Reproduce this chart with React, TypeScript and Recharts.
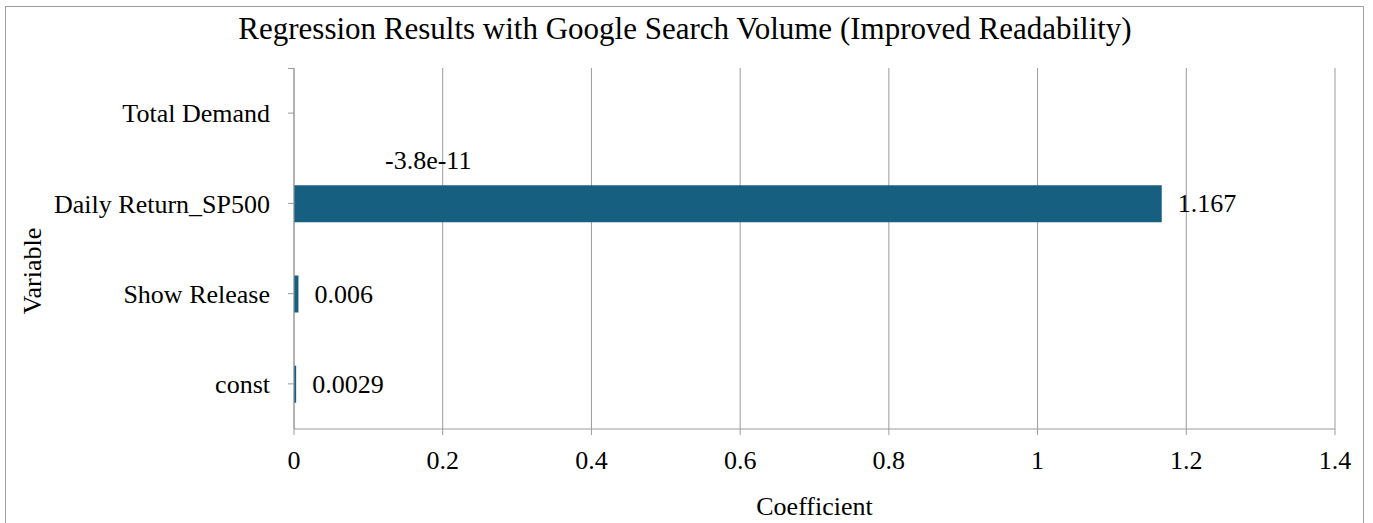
import React from 'react';
import { BarChart, Bar, XAxis, YAxis, CartesianGrid, LabelList, Label } from 'recharts';

const categories = ['Total Demand', 'Daily Return_SP500', 'Show Release', 'const'];
const coefficients = [-3.8e-11, 1.167, 0.006, 0.0029];
const valueLabels = ['-3.8e-11', '1.167', '0.006', '0.0029'];
const xTicks = [0, 0.2, 0.4, 0.6, 0.8, 1, 1.2, 1.4];

const data = categories.map((c, i) => ({ name: c, value: coefficients[i], label: valueLabels[i] }));

const FONT = '"Liberation Serif", "Times New Roman", Times, serif';
const BAR = '#175f80';
const GRID = '#9a9a9a';

const ValueLabel = (props: any) => {
  const { x, y, width, height, index } = props;
  const d = data[index];
  const cy = y + height / 2;
  if (d.value < 0) {
    return (
      <text x={x + 91} y={cy + 47} fontSize={26} fontFamily={FONT} fill="#000" dominantBaseline="central">
        {d.label}
      </text>
    );
  }
  return (
    <text x={x + width + 16} y={cy} fontSize={26} fontFamily={FONT} fill="#000" dominantBaseline="central">
      {d.label}
    </text>
  );
};

export default function App() {
  return (
    <div style={{ position: 'absolute', left: 0, top: 0, width: 1373, height: 523, background: '#fff', overflow: 'hidden', fontFamily: FONT }}>
      <div style={{ position: 'absolute', left: 5, top: 6, width: 1359, height: 540, border: '1px solid #a0a0a0', borderBottom: 'none', boxSizing: 'border-box' }} />
      <svg style={{ position: 'absolute', left: 0, top: 0 }} width={1373} height={80}>
        <text x={685} y={39} textAnchor="middle" fontSize={31} fontFamily={FONT} fill="#000">
          Regression Results with Google Search Volume (Improved Readability)
        </text>
        <line x1={288} y1={68.5} x2={294} y2={68.5} stroke={GRID} strokeWidth={1} />
      </svg>
      <div style={{ position: 'absolute', left: 0, top: 0 }}>
        <BarChart
          width={1373}
          height={523}
          data={data}
          layout="vertical"
          margin={{ top: 68, right: 38, left: 0, bottom: 0 }}
        >
          <CartesianGrid horizontal={false} vertical={true} stroke={GRID} strokeWidth={1} />
          <XAxis
            type="number"
            domain={[0, 1.4]}
            ticks={xTicks}
            allowDataOverflow
            height={94}
            tickSize={6}
            tickMargin={16}
            stroke={GRID}
            tick={{ fontSize: 26, fontFamily: FONT, fill: '#000' }}
            tickFormatter={(v: number) => String(v)}
          >
            <Label
              content={(p: any) => {
                const vb = p.viewBox;
                return (
                  <text x={vb.x + vb.width / 2} y={515} textAnchor="middle" fontSize={26} fontFamily={FONT} fill="#000">
                    Coefficient
                  </text>
                );
              }}
            />
          </XAxis>
          <YAxis
            type="category"
            dataKey="name"
            width={294}
            tickSize={6}
            tickMargin={18}
            stroke={GRID}
            tick={{ fontSize: 26, fontFamily: FONT, fill: '#000' }}
          >
            <Label
              content={() => (
                <text
                  x={32}
                  y={271}
                  transform="rotate(-90 32 271)"
                  textAnchor="middle"
                  dominantBaseline="central"
                  fontSize={26}
                  fontFamily={FONT}
                  fill="#000"
                >
                  Variable
                </text>
              )}
            />
          </YAxis>
          <Bar dataKey="value" fill={BAR} barSize={37} isAnimationActive={false}>
            <LabelList dataKey="value" content={ValueLabel} />
          </Bar>
        </BarChart>
      </div>
    </div>
  );
}
